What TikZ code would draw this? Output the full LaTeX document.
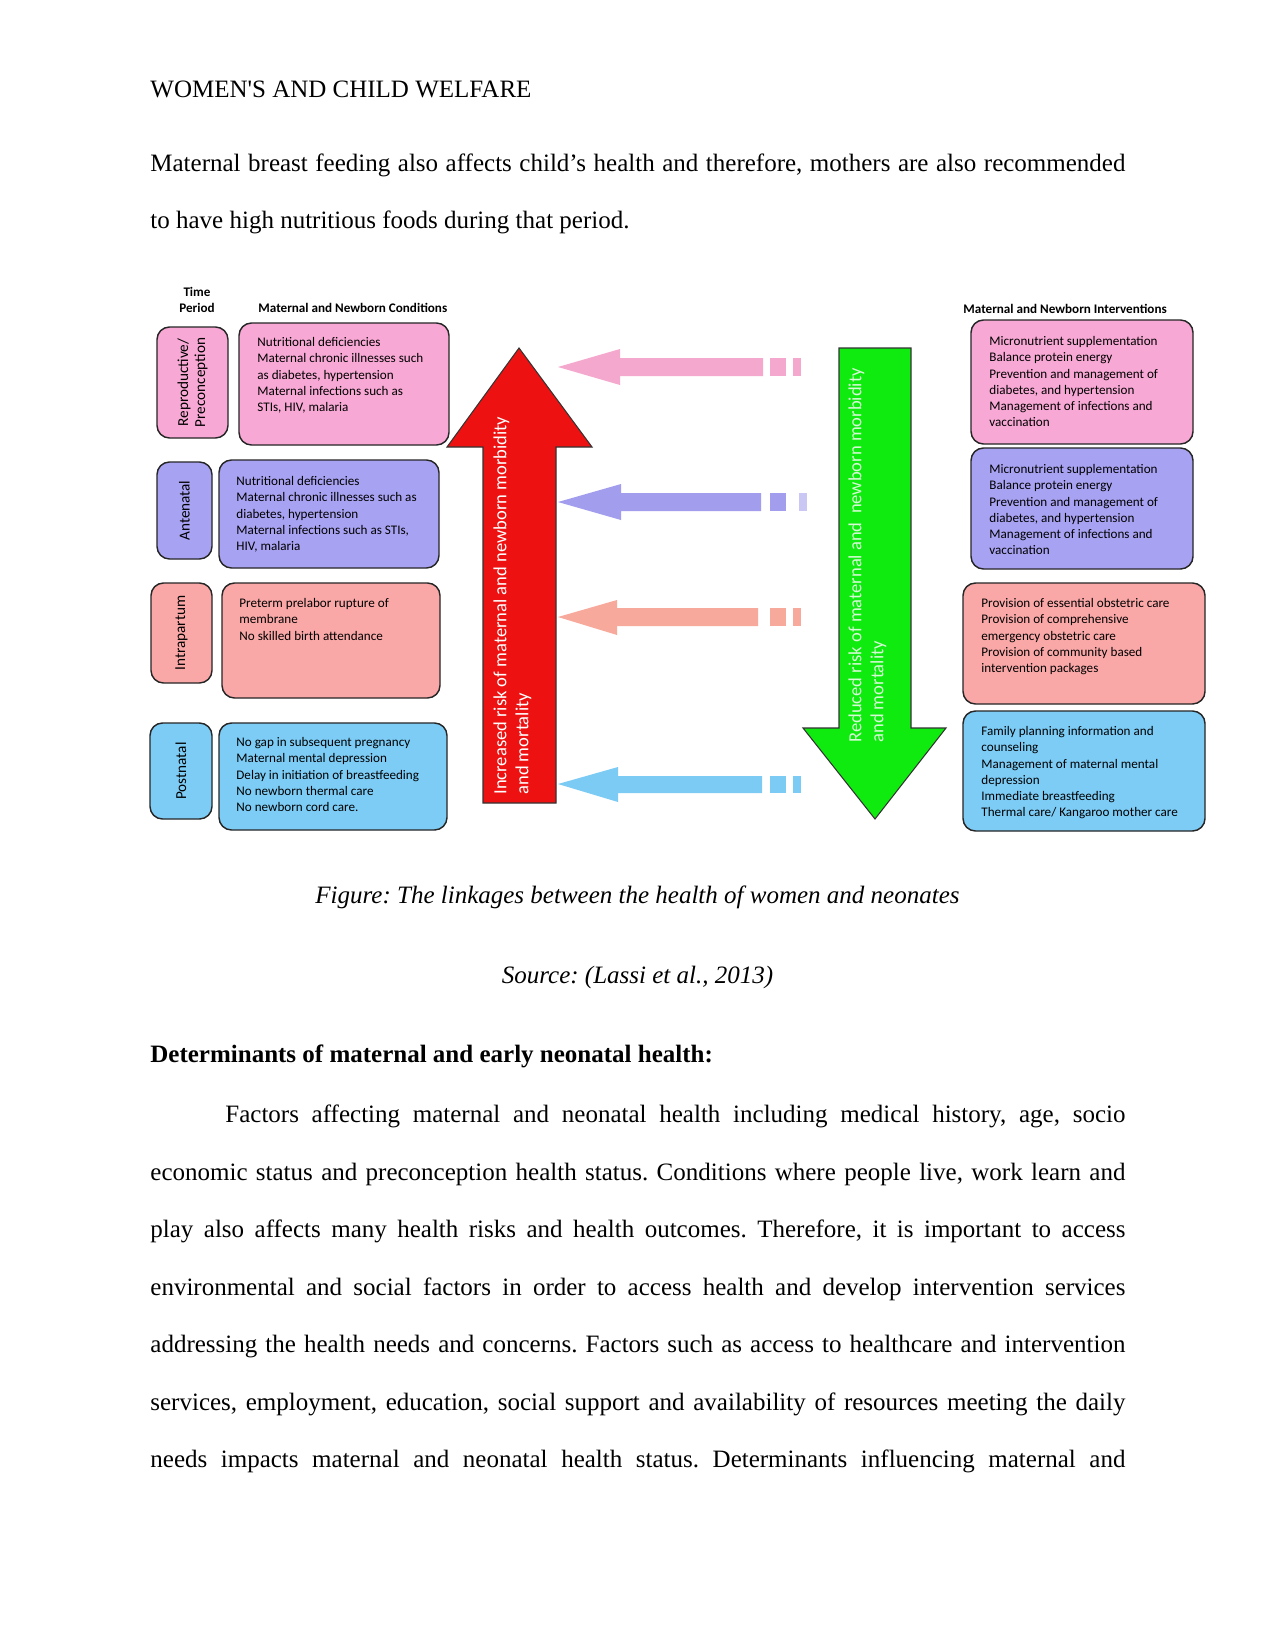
\documentclass[tikz,border=0pt]{standalone}
\usepackage{fontspec}
\setmainfont{Liberation Serif}
\newfontfamily\diagfont{Carlito}
\usetikzlibrary{fit}
\frenchspacing

\begin{document}
\begin{tikzpicture}[
    x=0.48pt, y=-0.48pt,
    text=black,
    bodyline/.style={anchor=base west, inner sep=0pt, font=\fontsize{12}{14}\selectfont},
    box/.style={draw=black!85, line width=0.7pt, rounded corners=6pt, inner sep=0pt},
    boxtext/.style={anchor=north west, inner sep=0pt, align=left, font=\diagfont\fontsize{6.3}{7.8}\selectfont},
    periodtext/.style={rotate=90, inner sep=0pt, align=center, font=\diagfont\fontsize{7.3}{8.2}\selectfont},
    headtext/.style={inner sep=0pt, align=center, font=\diagfont\bfseries\fontsize{6.3}{7.3}\selectfont},
    bigarrow/.style={draw=black!80, line width=0.5pt},
    arrowtext/.style={rotate=90, anchor=north west, inner sep=0pt, align=left, font=\diagfont\fontsize{8.9}{10.6}\selectfont}
]

% Colours picked from the figure
\definecolor{condpink}{HTML}{F7A8D4}
\definecolor{condpurple}{HTML}{A8A2F2}
\definecolor{condsalmon}{HTML}{F9A8A7}
\definecolor{condblue}{HTML}{7DCCF6}
\definecolor{arrowpink}{HTML}{F5A8CE}
\definecolor{arrowpurple}{HTML}{A39DEE}
\definecolor{arrowlilac}{HTML}{CAC7F4}
\definecolor{arrowsalmon}{HTML}{F7A99B}
\definecolor{arrowblue}{HTML}{7BCBF4}
\definecolor{riskred}{HTML}{EE1111}
\definecolor{riskgreen}{HTML}{0FEA0F}
\definecolor{greentext}{HTML}{D6FBD6}

\useasboundingbox[fill=white] (0,0) rectangle (1275,1651);

% ==================== PAGE TEXT (TOP) ====================
\node[bodyline] (runhead) at (150,98) {WOMEN\textquotesingle S AND CHILD WELFARE};
\node[bodyline] (parA1) at (150,172) {\makebox[468pt][s]{Maternal breast feeding also affects child’s health and therefore, mothers are also recommended}};
\node[bodyline] (parA2) at (150,228) {to have high nutritious foods during that period.};

% ==================== HEADINGS ====================
\node[headtext] (timehead) at (197,300) {Time\\Period};
\node[headtext, anchor=west] (condhead) at (258,308) {Maternal and Newborn Conditions};
\node[headtext, anchor=west] (inthead) at (963,309) {Maternal and Newborn Interventions};

% ==================== TIME PERIODS ====================
\node[box, fill=condpink, fit={(157,327) (228,438)}] (p1) {};
\node[box, fill=condpurple, fit={(157,462) (212,559)}] (p2) {};
\node[box, fill=condsalmon, fit={(151,583) (212,683)}] (p3) {};
\node[box, fill=condblue, fit={(150,723) (212,819)}] (p4) {};

\node[periodtext] (p1txt) at (p1.center) {Reproductive/\\Preconception};
\node[periodtext] (p2txt) at (p2.center) {Antenatal};
\node[periodtext] (p3txt) at (p3.center) {Intrapartum};
\node[periodtext] (p4txt) at (p4.center) {Postnatal};

% ==================== CONDITIONS ====================
\node[box, fill=condpink, fit={(239,323) (449,445)}] (c1) {};
\node[box, fill=condpurple, fit={(219,460) (439,568)}] (c2) {};
\node[box, fill=condsalmon, fit={(222,583) (440,698)}] (c3) {};
\node[box, fill=condblue, fit={(219,723) (447,830)}] (c4) {};

\node[boxtext] (c1txt) at (257,337) {Nutritional deficiencies\\Maternal chronic illnesses such\\as diabetes, hypertension\\Maternal infections such as\\STIs, HIV, malaria};
\node[boxtext] (c2txt) at (236,476) {Nutritional deficiencies\\Maternal chronic illnesses such as\\diabetes, hypertension\\Maternal infections such as STIs,\\HIV, malaria};
\node[boxtext] (c3txt) at (239,598) {Preterm prelabor rupture of\\membrane\\No skilled birth attendance};
\node[boxtext] (c4txt) at (236,737) {No gap in subsequent pregnancy\\Maternal mental depression\\Delay in initiation of breastfeeding\\No newborn thermal care\\No newborn cord care.};

% ==================== INTERVENTIONS ====================
\node[box, fill=condpink, fit={(971,320) (1193,444)}] (i1) {};
\node[box, fill=condpurple, fit={(971,448) (1193,569)}] (i2) {};
\node[box, fill=condsalmon, fit={(963,583) (1205,704)}] (i3) {};
\node[box, fill=condblue, fit={(963,711) (1205,831)}] (i4) {};

\node[boxtext] (i1txt) at (989,336) {Micronutrient supplementation\\Balance protein energy\\Prevention and management of\\diabetes, and hypertension\\Management of infections and\\vaccination};
\node[boxtext] (i2txt) at (989,464) {Micronutrient supplementation\\Balance protein energy\\Prevention and management of\\diabetes, and hypertension\\Management of infections and\\vaccination};
\node[boxtext] (i3txt) at (981,598) {Provision of essential obstetric care\\Provision of comprehensive\\emergency obstetric care\\Provision of community based\\intervention packages};
\node[boxtext] (i4txt) at (981,726) {Family planning information and\\counseling\\Management of maternal mental\\depression\\Immediate breastfeeding\\Thermal care/ Kangaroo mother care};

% ==================== RISK ARROWS ====================
% Increased risk (up)
\filldraw[bigarrow, fill=riskred] (519,348) -- (592,447) -- (556,447) -- (556,803)
    -- (483,803) -- (483,447) -- (447,447) -- cycle;
\node[arrowtext, text=white] (uptxt) at (493,795) {Increased risk of maternal and newborn morbidity\\and mortality};

% Reduced risk (down)
\filldraw[bigarrow, fill=riskgreen] (839,348) -- (911,348) -- (911,728) -- (946,728)
    -- (875,819) -- (803,728) -- (839,728) -- cycle;
\node[arrowtext, text=greentext] (downtxt) at (848,743) {Reduced risk of maternal and\ \ newborn morbidity\\and mortality};

% ==================== LINK ARROWS ====================
% Preconception
\fill[arrowpink] (558,367) -- (620,349) -- (620,358) -- (763,358) -- (763,376) -- (620,376) -- (620,385) -- cycle;
\fill[arrowpink] (770,358) rectangle (786,376);
\fill[arrowpink] (793,358) rectangle (801,376);

% Antenatal
\fill[arrowpurple] (558,502) -- (621,484) -- (621,493) -- (761,493) -- (761,511) -- (621,511) -- (621,520) -- cycle;
\fill[arrowpurple] (770,493) rectangle (786,511);
\fill[arrowlilac] (799,493) rectangle (807,511);

% Intrapartum
\fill[arrowsalmon] (558,617) -- (617,600) -- (617,608) -- (758,608) -- (758,626) -- (617,626) -- (617,635) -- cycle;
\fill[arrowsalmon] (770,608) rectangle (786,626);
\fill[arrowsalmon] (793,608) rectangle (801,626);

% Postnatal
\fill[arrowblue] (558,784) -- (618,767) -- (618,776) -- (762,776) -- (762,793) -- (618,793) -- (618,802) -- cycle;
\fill[arrowblue] (770,776) rectangle (786,793);
\fill[arrowblue] (793,776) rectangle (801,793);

% ==================== CAPTION ====================
\node[bodyline, anchor=base] (figcap) at (637.5,903) {\itshape Figure: The linkages between the health of women and neonates};
\node[bodyline, anchor=base] (figsrc) at (637.5,983) {\itshape Source: (Lassi et al., 2013)};

% ==================== PAGE TEXT (BOTTOM) ====================
\node[bodyline] (sechead) at (150,1062) {\bfseries Determinants of maternal and early neonatal health:};
\node[bodyline] (parB1) at (225,1122) {\makebox[432pt][s]{Factors affecting maternal and neonatal health including medical history, age, socio}};
\node[bodyline] (parB2) at (150,1180) {\makebox[468pt][s]{economic status and preconception health status. Conditions where people live, work learn and}};
\node[bodyline] (parB3) at (150,1237) {\makebox[468pt][s]{play also affects many health risks and health outcomes. Therefore, it is important to access}};
\node[bodyline] (parB4) at (150,1295) {\makebox[468pt][s]{environmental and social factors in order to access health and develop intervention services}};
\node[bodyline] (parB5) at (150,1352) {\makebox[468pt][s]{addressing the health needs and concerns. Factors such as access to healthcare and intervention}};
\node[bodyline] (parB6) at (150,1410) {\makebox[468pt][s]{services, employment, education, social support and availability of resources meeting the daily}};
\node[bodyline] (parB7) at (150,1467) {\makebox[468pt][s]{needs impacts maternal and neonatal health status. Determinants influencing maternal and}};

\end{tikzpicture}
\end{document}
